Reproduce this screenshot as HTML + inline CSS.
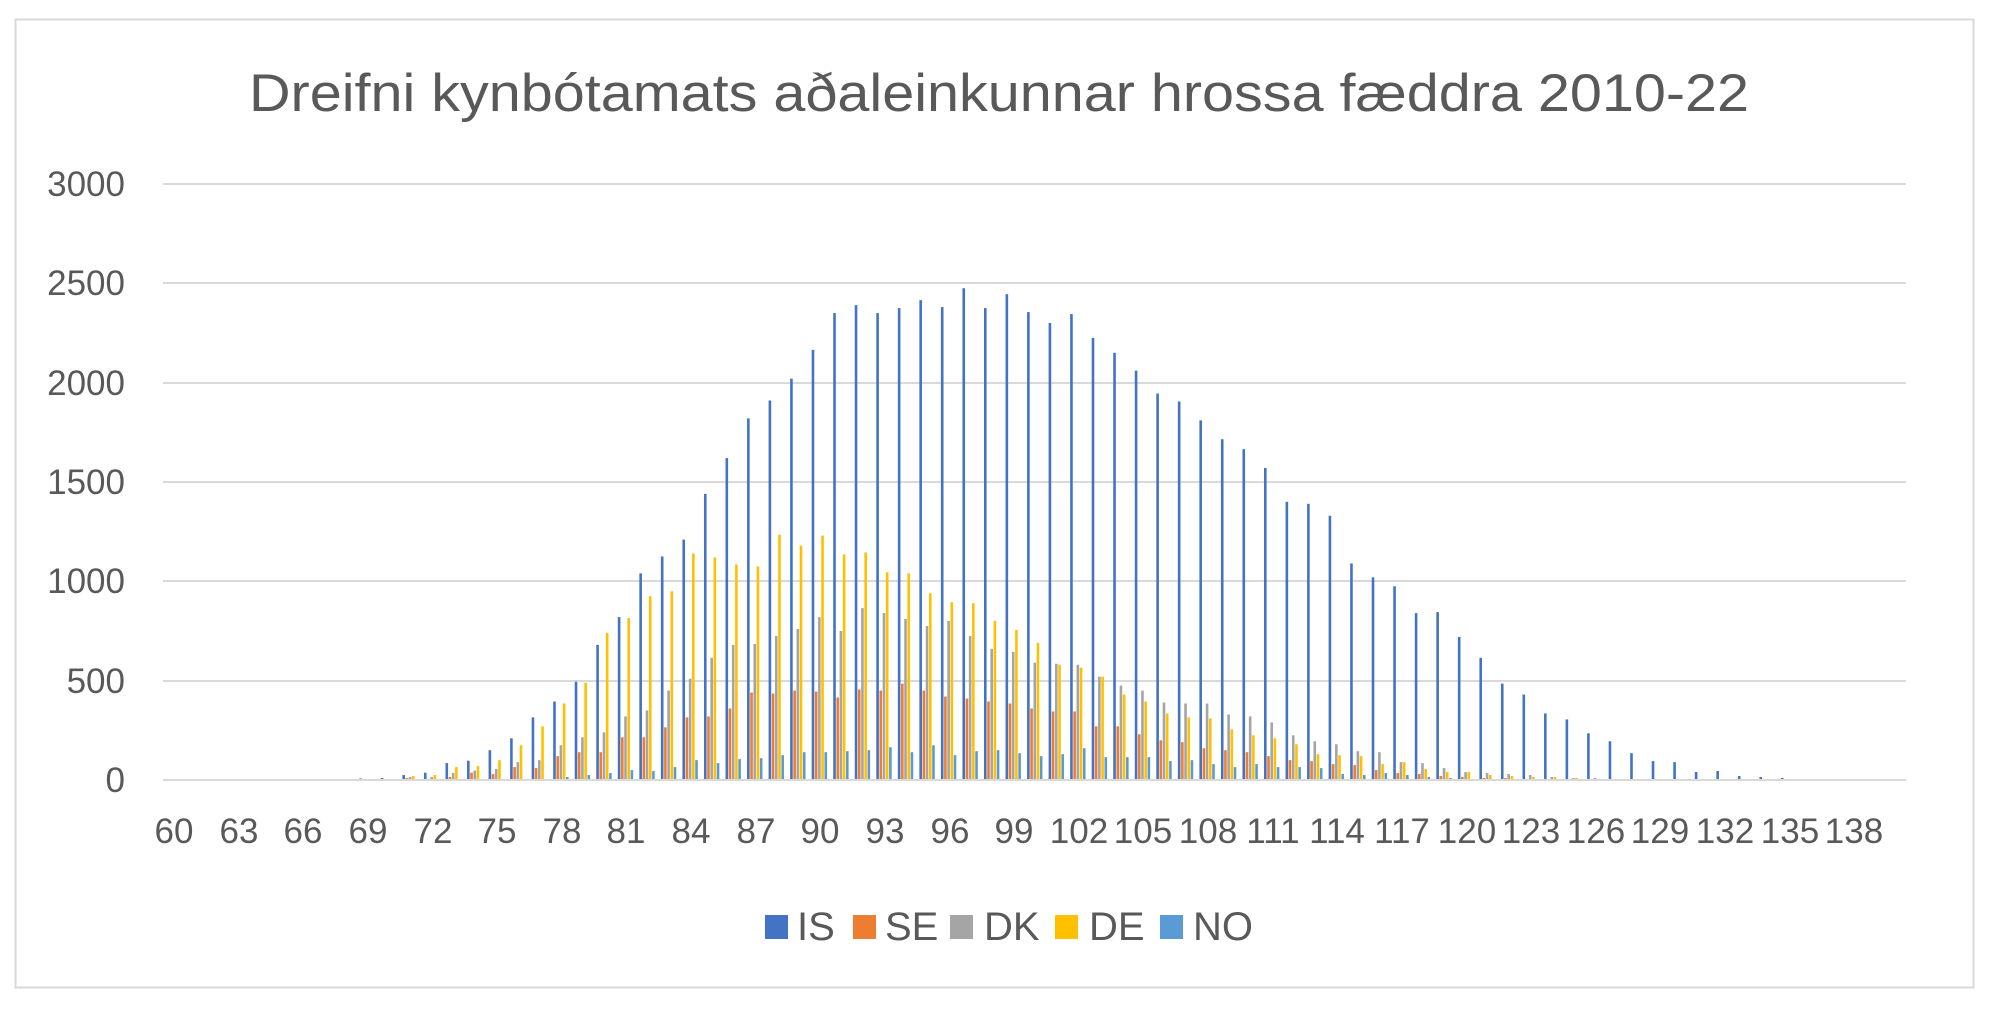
<!DOCTYPE html>
<html><head><meta charset="utf-8"><style>
html,body{margin:0;padding:0;background:#fff;width:2000px;height:1010px;overflow:hidden}
svg{display:block}
text{font-family:"Liberation Sans",sans-serif;fill:#595959}
</style></head><body>
<svg id="s" width="2000" height="1010" viewBox="0 0 2000 1010">
<rect x="15.5" y="19.5" width="1958" height="968" fill="#fff" stroke="#d9d9d9" stroke-width="2"/>
<text x="999" y="111" font-size="53" text-anchor="middle" textLength="1500" lengthAdjust="spacingAndGlyphs">Dreifni kynbótamats aðaleinkunnar hrossa fæddra 2010-22</text>
<g stroke="#d9d9d9" stroke-width="2">
<line x1="163" x2="1906" y1="184" y2="184"/>
<line x1="163" x2="1906" y1="283" y2="283"/>
<line x1="163" x2="1906" y1="383" y2="383"/>
<line x1="163" x2="1906" y1="482" y2="482"/>
<line x1="163" x2="1906" y1="581" y2="581"/>
<line x1="163" x2="1906" y1="681" y2="681"/>
</g>
<g font-size="35" text-anchor="end">
<text x="125" y="196">3000</text>
<text x="125" y="295">2500</text>
<text x="125" y="395">2000</text>
<text x="125" y="494">1500</text>
<text x="125" y="593">1000</text>
<text x="125" y="693">500</text>
<text x="125" y="792">0</text>
</g>
<g id="bars"></g>
<line x1="163" x2="1906" y1="780" y2="780" stroke="#d9d9d9" stroke-width="2"/>
<g font-size="35" text-anchor="middle">
<text x="174" y="843">60</text><text x="239" y="843">63</text><text x="303" y="843">66</text><text x="368" y="843">69</text><text x="433" y="843">72</text><text x="497" y="843">75</text><text x="562" y="843">78</text><text x="626" y="843">81</text><text x="691" y="843">84</text><text x="756" y="843">87</text><text x="820" y="843">90</text><text x="885" y="843">93</text><text x="950" y="843">96</text><text x="1014" y="843">99</text><text x="1079" y="843">102</text><text x="1143" y="843">105</text><text x="1208" y="843">108</text><text x="1273" y="843">111</text><text x="1337" y="843">114</text><text x="1402" y="843">117</text><text x="1467" y="843">120</text><text x="1531" y="843">123</text><text x="1596" y="843">126</text><text x="1660" y="843">129</text><text x="1725" y="843">132</text><text x="1790" y="843">135</text><text x="1854" y="843">138</text>
</g>
<g font-size="40">
<rect x="765" y="915" width="23" height="24" fill="#4472C4"/><text x="797" y="940">IS</text>
<rect x="853" y="915" width="23" height="24" fill="#ED7D31"/><text x="885" y="940">SE</text>
<rect x="950" y="915" width="23" height="24" fill="#A5A5A5"/><text x="984" y="940">DK</text>
<rect x="1055" y="915" width="23" height="24" fill="#FFC000"/><text x="1089" y="940">DE</text>
<rect x="1160" y="915" width="23" height="24" fill="#5B9BD5"/><text x="1193" y="940">NO</text>
</g>
</svg>
<script>
var IS={67:3,68:5,69:8,70:10,71:25,72:37,73:85,74:97,75:150,76:210,77:315,78:395,79:495,80:680,81:820,82:1040,83:1125,84:1210,85:1440,86:1620,87:1820,88:1910,89:2020,90:2165,91:2350,92:2390,93:2350,94:2375,95:2415,96:2380,97:2475,98:2375,99:2445,100:2355,101:2300,102:2345,103:2225,104:2150,105:2060,106:1945,107:1905,108:1810,109:1715,110:1665,111:1570,112:1400,113:1390,114:1330,115:1090,116:1020,117:975,118:840,119:845,120:720,121:615,122:485,123:430,124:335,125:305,126:235,127:195,128:135,129:95,130:90,131:40,132:45,133:20,134:15,135:10};
var SE={71:10,72:5,73:15,74:37,75:30,76:65,77:60,78:120,79:140,80:140,81:215,82:215,83:265,84:315,85:320,86:360,87:440,88:435,89:450,90:445,91:415,92:455,93:450,94:485,95:450,96:420,97:410,98:395,99:385,100:360,101:345,102:345,103:270,104:270,105:230,106:200,107:190,108:160,109:150,110:140,111:120,112:100,113:95,114:80,115:75,116:50,117:35,118:30,119:20,120:15,121:10,122:10,123:5};
var DK={70:5,71:15,72:15,73:35,74:47,75:55,76:90,77:100,78:175,79:215,80:240,81:320,82:350,83:450,84:510,85:615,86:680,87:685,88:725,89:760,90:820,91:750,92:865,93:840,94:810,95:775,96:800,97:725,98:660,99:645,100:590,101:585,102:580,103:520,104:475,105:450,106:390,107:385,108:385,109:330,110:320,111:290,112:225,113:195,114:180,115:145,116:140,117:90,118:85,119:60,120:40,121:35,122:30,123:25,124:15,125:10,126:10,127:5};
var DE={70:5,71:20,72:25,73:65,74:70,75:100,76:175,77:270,78:385,79:490,80:740,81:815,82:925,83:950,84:1140,85:1120,86:1085,87:1075,88:1235,89:1180,90:1230,91:1135,92:1145,93:1045,94:1040,95:940,96:895,97:890,98:800,99:755,100:690,101:580,102:565,103:520,104:430,105:395,106:335,107:315,108:310,109:255,110:225,111:210,112:180,113:130,114:125,115:120,116:80,117:90,118:55,119:40,120:40,121:25,122:20,123:15,124:15,125:10,126:5};
var NO={78:15,79:25,80:35,81:50,82:45,83:65,84:100,85:85,86:105,87:110,88:125,89:140,90:140,91:145,92:150,93:165,94:140,95:175,96:125,97:145,98:150,99:135,100:120,101:130,102:160,103:115,104:115,105:115,106:95,107:100,108:80,109:65,110:80,111:65,112:65,113:60,114:30,115:25,116:35,117:25,118:15,119:10,120:5};
var ser=[[IS,"#4472C4",-8.5],[SE,"#ED7D31",-5.3],[DK,"#A5A5A5",-2.1],[DE,"#FFC000",1.1],[NO,"#5B9BD5",4.3]];
var g=document.getElementById("bars"),h="";
for(var c=60;c<=140;c++){var cx=163.2+(c-60+0.5)*21.54;
for(var i=0;i<5;i++){var v=ser[i][0][c];if(!v)continue;var hh=v*0.1987;
h+='<rect x="'+(cx+ser[i][2]).toFixed(2)+'" y="'+(780-hh).toFixed(2)+'" width="2.6" height="'+hh.toFixed(2)+'" fill="'+ser[i][1]+'"/>';}}
g.innerHTML=h;
</script>
</body></html>
